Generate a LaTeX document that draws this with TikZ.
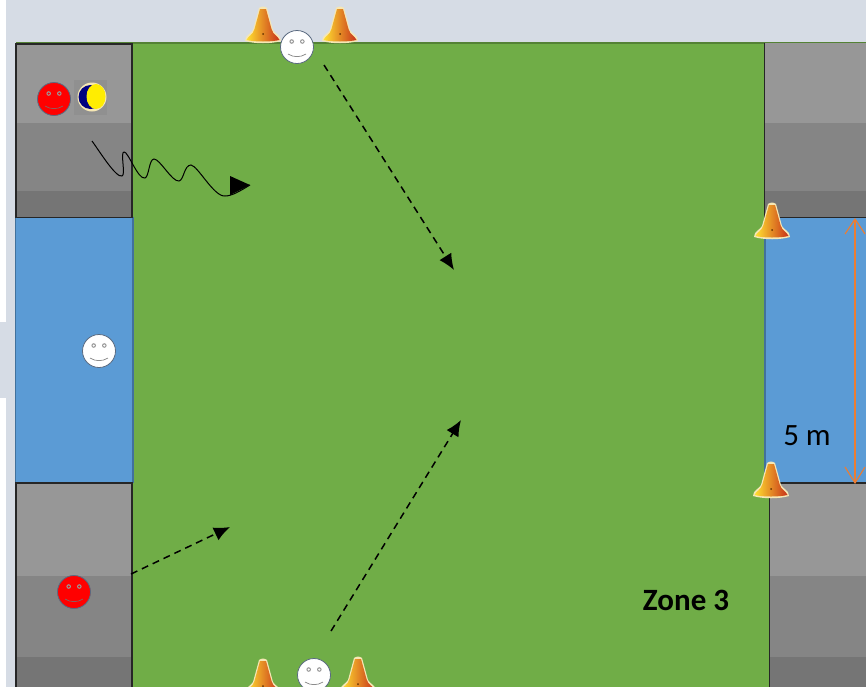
\documentclass[tikz,border=0pt]{standalone}
\usepackage{fontspec}
\setmainfont{Carlito}
\usetikzlibrary{arrows.meta,shadings}
\definecolor{bandbg}{HTML}{D6DCE5}
\definecolor{fieldg}{HTML}{70AD47}
\definecolor{zoneb}{HTML}{5B9BD5}
\definecolor{zoneedge}{HTML}{41719C}
\definecolor{greyA}{HTML}{979797}
\definecolor{greyB}{HTML}{858585}
\definecolor{greyC}{HTML}{757575}
\definecolor{dimline}{HTML}{ED7D31}
\definecolor{faceedge}{HTML}{5A6A80}
\definecolor{cream}{HTML}{F6E7B4}
\definecolor{coneY}{HTML}{FFE030}
\definecolor{coneM}{HTML}{FFC418}
\definecolor{coneR}{HTML}{C8321A}
\tikzset{
  x=1pt,y=-1pt,
  face/.style={circle,draw=faceedge,line width=.8pt,minimum size=33pt,inner sep=0pt},
  whiteface/.style={face,fill=white},
  redface/.style={face,fill=red},
  run/.style={-{Latex[length=16pt,width=14pt]},line width=1.5pt,dash pattern=on 7pt off 5pt,black},
  dribble/.style={line width=1pt,black},
  pics/cone/.style={code={
    \fill[cream] (-18,34) .. controls (-18,28) and (-12,27) .. (-10,23) -- (-4,1)
       .. controls (-1,-1) and (1,-1) .. (4,1) -- (10,23) .. controls (12,27) and (18,28) .. (18,34)
       .. controls (8,37) and (-8,37) .. (-18,34) -- cycle;
    \shade[left color=coneY,middle color=coneM,right color=coneR]
       (-16.5,33) .. controls (-15,29) and (-10,28) .. (-8.5,22) -- (-3,2) -- (3,2) -- (8.5,22)
       .. controls (10,28) and (15,29) .. (16.5,33) .. controls (8,35) and (-8,35) .. (-16.5,33) -- cycle;
    \fill[black!60!orange] (0,27) circle (1);
  }},
  pics/smile/.style={code={
    \fill[gray!80] (-5.3,-5.5) circle (2.3) (5.3,-5.5) circle (2.3);
    \fill[#1] (-5.3,-5.5) circle (1.2) (5.3,-5.5) circle (1.2);
    \draw[gray!90!black,line width=.6pt] (-9,7) .. controls (-4,10.5) and (4,10.5) .. (9,7);
  }},
}
\newcommand{\greybox}[3]{%
  \fill[greyA] (#1,#3) rectangle (#2,#3+93);
  \fill[greyB] (#1,#3+93) rectangle (#2,#3+174);
  \fill[greyC] (#1,#3+174) rectangle (#2,#3+240);
}
\begin{document}
\begin{tikzpicture}
\useasboundingbox (0,0) rectangle (866,686);
\clip (0,0) rectangle (867,688);
% page background
\fill[white] (0,0) rectangle (867,688);
\fill[bandbg] (6,0) rectangle (867,44);
\fill[bandbg] (6,0) rectangle (16,688);
\fill[bandbg] (0,322) rectangle (16,398);
% field
\fill[fieldg] (132,43) rectangle (770,690);
\draw[fieldg!75!black,line width=1.2pt] (16,43) -- (867,43);
% blue zones
\fill[zoneb] (15,217) rectangle (133,483);
\fill[zoneb] (765,217) rectangle (867,483);
\draw[zoneedge,line width=1.2pt] (15.5,217) -- (15.5,483);
\draw[zoneedge,line width=1.2pt] (133,217) -- (133,483);
\draw[zoneedge,line width=1.2pt] (765,217) -- (765,483);
% grey boxes
\fill[greyA] (16,44) rectangle (132,123);
\fill[greyB] (16,123) rectangle (132,191);
\fill[greyC] (16,191) rectangle (132,217);
\draw[black!85,line width=1.1pt] (16,44) rectangle (132,217.5);
\greybox{16}{132}{483}
\draw[black!85,line width=1.1pt] (16,690) -- (16,483) -- (132,483) -- (132,690);
\fill[greyA] (765,43) rectangle (867,123);
\fill[greyB] (765,123) rectangle (867,191);
\fill[greyC] (765,191) rectangle (867,217);
\draw[black!85,line width=1.1pt] (867,217.5) -- (764.5,217.5) -- (764.5,43);
\greybox{770}{867}{483}
\draw[black!85,line width=1.1pt] (867,483) -- (769.5,483) -- (769.5,690);
% ball
\fill[greyA!95!black] (74,80) rectangle (107,115);
\fill[cream] (92,97) circle (14.5);
\fill[blue!50!black] (90.5,97) circle (12);
\fill[yellow!95!orange] (96,96.5) ellipse (9.5 and 12.5);
% cones
\pic at (263,7) {cone};
\pic at (340,7) {cone};
\pic at (772,203) {cone};
\pic at (771,462) {cone};
\pic at (263,659) {cone};
\pic at (358,657) {cone};
% players
\node[whiteface] (topplayer) at (297,47) {};
\pic at (topplayer.center) {smile=white};
\node[whiteface] (midplayer) at (99,351) {};
\pic at (midplayer.center) {smile=white};
\node[whiteface] (botplayer) at (314,675) {};
\pic at (botplayer.center) {smile=white};
\node[redface] (redtop) at (54,99) {};
\pic at (redtop.center) {smile=red};
\node[redface] (redbot) at (74,592) {};
\pic at (redbot.center) {smile=red};
% dribble
\coordinate (ds) at (92,141);
\coordinate (de) at (250,185);
\draw[dribble] (ds) .. controls (100,152) and (116,178) .. (122,176)
  .. controls (126,175) and (120,152) .. (124,152)
  .. controls (128,151) and (138,180) .. (145,178)
  .. controls (149,177) and (149,159) .. (154,159)
  .. controls (160,159) and (172,182) .. (179,181)
  .. controls (184,180) and (184,165) .. (191,165)
  .. controls (198,166) and (214,197) .. (225,196)
  .. controls (232,196) and (240,191) .. (de);
\fill[black] (230,176) -- (de) -- (230,195) -- cycle;
% passes
\coordinate (a1) at (324,65); \coordinate (a2) at (454,270);
\coordinate (b1) at (131,574); \coordinate (b2) at (230,527);
\coordinate (c1) at (331,631); \coordinate (c2) at (461,420);
\draw[run] (a1) -- (a2);
\draw[run] (b1) -- (b2);
\draw[run] (c1) -- (c2);
% dimension
\coordinate (d1) at (855,219); \coordinate (d2) at (855,483);
\draw[dimline,line width=1.6pt] (d1) -- (d2);
\draw[dimline,line width=1.1pt] (845,234) -- (d1) -- (865,234);
\draw[dimline,line width=1.1pt] (845,467) -- (d2) -- (865,467);
% labels
\node[font=\fontsize{31}{34}\selectfont,inner sep=0pt] (fivem) at (807,436) {5 m};
\node[font=\fontsize{31}{34}\selectfont\bfseries,inner sep=0pt] (zone) at (686,600) {Zone 3};
\end{tikzpicture}
\end{document}
